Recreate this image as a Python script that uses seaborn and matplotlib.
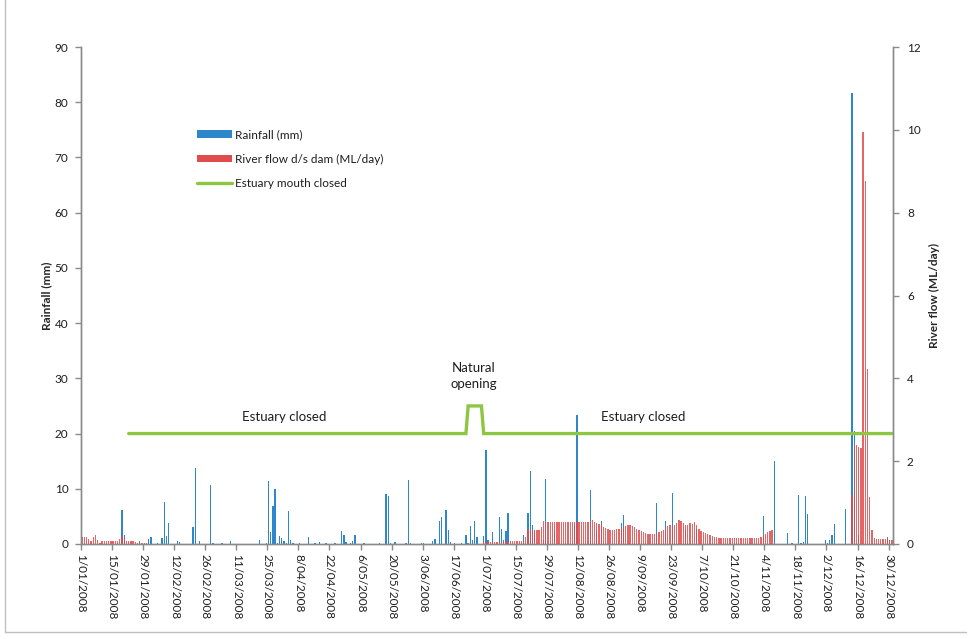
"""Daily rainfall and river flow below the dam, 2008, with estuary mouth state."""
import numpy as np
import pandas as pd
import matplotlib
matplotlib.use('Agg')
import matplotlib.pyplot as plt
import matplotlib.transforms as mtransforms
from matplotlib.lines import Line2D
from matplotlib.patches import Patch
import seaborn as sns

BLUE     = '#2E86CB'
RED      = '#E04B4B'
GREEN    = '#8DC641'
AXIS_COL = '#8A8A8A'
TEXT_COL = '#1E1E1E'
FONT     = ['Lato', 'DejaVu Sans']

N_DAYS = 366          # 2008 is a leap year, day 0 = 1 Jan

# rainfall events: day of year -> mm
rain_day = [18, 19, 26, 30, 31, 34, 36, 37, 38, 39, 43, 44, 50, 51, 53, 58, 59, 63, 67,
            80, 83, 84, 85, 86, 87, 88, 89, 90, 91, 92, 93, 94, 95, 98, 102, 105, 107,
            110, 114, 117, 118, 119, 121, 122, 123, 127, 134, 137, 138, 139, 141, 146,
            147, 148, 153, 154, 158, 159, 161, 162, 164, 165, 166, 168, 171, 173, 174,
            175, 176, 177, 178, 181, 182, 183, 185, 188, 189, 190, 191, 192, 199, 201,
            202, 203, 204, 208, 209, 213, 222, 223, 229, 232, 234, 243, 244, 259, 263,
            266, 272, 277, 307, 312, 318, 320, 323, 324, 325, 326, 327, 335, 336, 337,
            338, 339, 344, 347, 348, 350, 363, 364]
rain_mm = [6.2, 1.6, 0.5, 0.9, 1.2, 0.2, 1.0, 7.6, 1.4, 3.8, 0.5, 0.4, 3.1, 13.8, 0.5, 10.6, 0.2, 0.2, 0.5,
           0.8, 0.2, 11.4, 2.2, 6.8, 10.0, 0.2, 1.4, 1.1, 0.5, 0.2, 6.0, 0.8, 0.2, 0.2, 1.2, 0.2, 0.4,
           0.2, 0.2, 2.4, 1.6, 0.4, 0.2, 0.5, 1.6, 0.2, 0.2, 9.0, 8.6, 0.2, 0.4, 0.2,
           11.6, 0.2, 0.2, 0.2, 0.5, 0.9, 4.2, 4.8, 6.2, 2.5, 0.4, 0.2, 0.2, 1.6, 0.2,
           3.2, 0.8, 4.2, 1.2, 1.4, 17.1, 0.8, 2.2, 4.8, 2.8, 0.8, 2.4, 5.6, 1.6, 5.6,
           13.2, 3.4, 2.4, 0.8, 11.8, 2.5, 3.4, 23.4, 9.8, 2.5, 4.2, 3.8, 5.2, 7.4, 4.2,
           9.2, 2.5, 2.8, 5.0, 15.1, 2.0, 0.2, 8.8, 0.2, 0.4, 8.6, 5.4, 0.8, 0.2, 0.8,
           1.6, 3.6, 6.4, 81.7, 20.5, 1.7, 1.3, 0.7]

# river flow d/s dam (ML/day), three flowing periods
flow_jan_start = 0
flow_jan = [0.16, 0.16, 0.16, 0.12, 0.06, 0.18, 0.22, 0.10, 0.02, 0.08,
            0.08, 0.08, 0.08, 0.08, 0.06, 0.06, 0.06, 0.11, 0.20, 0.14,
            0.08, 0.08, 0.08, 0.08, 0.04, 0.03, 0.03, 0.03, 0.03, 0.02]
flow_wet_start = 181
flow_wet = [0.05, 0.05, 0.05, 0.05, 0.05, 0.05, 0.05, 0.05, 0.05, 0.05, 0.05,
            0.06, 0.06, 0.06, 0.06, 0.06, 0.06, 0.06, 0.08, 0.18, 0.35,
            0.34, 0.34, 0.34, 0.34, 0.34, 0.42, 0.55,
            0.54, 0.54, 0.54, 0.54, 0.54, 0.54, 0.54, 0.54, 0.54, 0.54, 0.54, 0.54, 0.54,
            0.54, 0.54, 0.54, 0.54, 0.54, 0.54, 0.54, 0.58, 0.58, 0.54,
            0.51, 0.48, 0.46, 0.42, 0.38, 0.35, 0.33, 0.33, 0.34, 0.35,
            0.37, 0.38, 0.40, 0.43, 0.46, 0.46, 0.43, 0.40, 0.37, 0.34,
            0.31, 0.29, 0.27, 0.25, 0.25, 0.25, 0.23, 0.26, 0.28, 0.31,
            0.34, 0.37, 0.43, 0.45, 0.43, 0.45, 0.51, 0.59, 0.55, 0.51,
            0.45, 0.46, 0.50, 0.49, 0.52, 0.45, 0.35, 0.32, 0.29, 0.27,
            0.24, 0.22, 0.19, 0.18, 0.18, 0.15, 0.15, 0.15, 0.15, 0.15,
            0.15, 0.14, 0.14, 0.14, 0.14, 0.14, 0.14, 0.14, 0.14, 0.14,
            0.14, 0.14, 0.15, 0.14, 0.16, 0.21, 0.24, 0.29, 0.32, 0.34]
flow_dec_start = 347
flow_dec = [1.18, 2.40, 2.39, 2.35, 2.31, 9.96, 8.77, 4.22, 1.14, 0.34,
            0.14, 0.12, 0.12, 0.12, 0.12, 0.12, 0.12, 0.10, 0.10]

# estuary mouth closed line (vertices, plotted on rainfall scale)
mouth_day   = [21, 173, 174, 180, 181, 365]
mouth_level = [20, 20, 25, 25, 20, 20]

tick_days = [0, 14, 28, 42, 56, 70, 84, 98, 112, 126, 140, 154, 168, 182,
             196, 210, 224, 238, 252, 266, 280, 294, 308, 322, 336, 350, 364]
tick_labels = ['1/01/2008', '15/01/2008', '29/01/2008', '12/02/2008', '26/02/2008',
               '11/03/2008', '25/03/2008', '8/04/2008', '22/04/2008', '6/05/2008',
               '20/05/2008', '3/06/2008', '17/06/2008', '1/07/2008', '15/07/2008',
               '29/07/2008', '12/08/2008', '26/08/2008', '9/09/2008', '23/09/2008',
               '7/10/2008', '21/10/2008', '4/11/2008', '18/11/2008', '2/12/2008',
               '16/12/2008', '30/12/2008']

RAIN_MAX, FLOW_MAX = 90, 12

rain = np.zeros(N_DAYS)
rain[rain_day] = rain_mm
flow = np.zeros(N_DAYS)
for start, vals in ((flow_jan_start, flow_jan), (flow_wet_start, flow_wet), (flow_dec_start, flow_dec)):
    flow[start:start + len(vals)] = vals
df = pd.DataFrame({'day': np.arange(N_DAYS), 'rain': rain, 'flow': flow})

sns.set_theme(style='white')
plt.rcParams['font.family'] = FONT
plt.rcParams['text.color'] = TEXT_COL

fig, ax = plt.subplots(figsize=(9.71, 6.39), dpi=100)
fig.subplots_adjust(left=0.0834, right=0.9197, bottom=0.1487, top=0.9264)

sns.barplot(data=df, x='day', y='rain', native_scale=True, width=0.6, color=BLUE,
            saturation=1, errorbar=None, linewidth=0, ax=ax)
ax2 = ax.twinx()
sns.barplot(data=df, x='day', y='flow', native_scale=True, width=0.6, color=RED,
            saturation=1, errorbar=None, linewidth=0, alpha=0.85, ax=ax2)
sns.lineplot(x=mouth_day, y=np.array(mouth_level) * FLOW_MAX / RAIN_MAX, ax=ax2,
             color=GREEN, lw=2.4, solid_joinstyle='miter')

ax.set_xlim(-0.5, N_DAYS - 0.5)
ax.set_ylim(0, RAIN_MAX)
ax2.set_ylim(0, FLOW_MAX)
ax.set_yticks(range(0, RAIN_MAX + 1, 10))
ax2.set_yticks(range(0, FLOW_MAX + 1, 2))
ax.set_xticks(np.array(tick_days) - 0.5)
ax.set_xticklabels(tick_labels, rotation=270, ha='center', va='top')
offset = mtransforms.ScaledTranslation(4 / 100, 0, fig.dpi_scale_trans)
for lbl in ax.get_xticklabels():
    lbl.set_transform(lbl.get_transform() + offset)

for a in (ax, ax2):
    for side in ('left', 'right', 'bottom'):
        a.spines[side].set_color(AXIS_COL)
        a.spines[side].set_linewidth(1)
    a.spines['top'].set_visible(False)
    a.set_xlabel('')
    a.grid(False)
ax.tick_params(axis='both', which='major', direction='out', length=4, width=1,
               color=AXIS_COL, labelsize=8.5, labelcolor=TEXT_COL, pad=5)
ax.tick_params(axis='x', pad=3, left=True, bottom=True)
ax.tick_params(axis='y', left=True)
ax2.tick_params(axis='y', direction='out', length=4, width=1, color=AXIS_COL,
                labelsize=8.5, labelcolor=TEXT_COL, pad=6, right=True)

ax.set_ylabel('Rainfall (mm)', fontsize=8.5, fontweight='bold', labelpad=2)
ax2.set_ylabel('River flow (ML/day)', fontsize=8.5, fontweight='bold', labelpad=6)

ax.text(91, 23, 'Estuary closed', ha='center', va='center', fontsize=9.5)
ax.text(253, 23, 'Estuary closed', ha='center', va='center', fontsize=9.5)
ax.text(176.5, 30.4, 'Natural\nopening', ha='center', va='center', fontsize=9.5,
        linespacing=1.35)

handles = [Patch(facecolor=BLUE, edgecolor='none'),
           Patch(facecolor=RED, edgecolor='none'),
           Line2D([0], [0], color=GREEN, lw=2.4)]
labels = ['Rainfall (mm)', 'River flow d/s dam (ML/day)', 'Estuary mouth closed']
fig.legend(handles, labels, loc='upper left', bbox_to_anchor=(197 / 971, 1 - 129 / 639),
           frameon=False, fontsize=8.5, handlelength=3.0, handleheight=0.6,
           handletextpad=0.25, labelspacing=1.15, borderpad=0, borderaxespad=0)

# thin chart-area border (left and bottom visible in the original)
fig.add_artist(Line2D([5 / 971, 5 / 971], [1.0, 1 - 632 / 639], color='#BFBFBF', lw=1))
fig.add_artist(Line2D([5 / 971, 966 / 971], [1 - 632 / 639, 1 - 632 / 639], color='#BFBFBF', lw=1))

plt.savefig('out.png', dpi=100, facecolor='white')
plt.close()
